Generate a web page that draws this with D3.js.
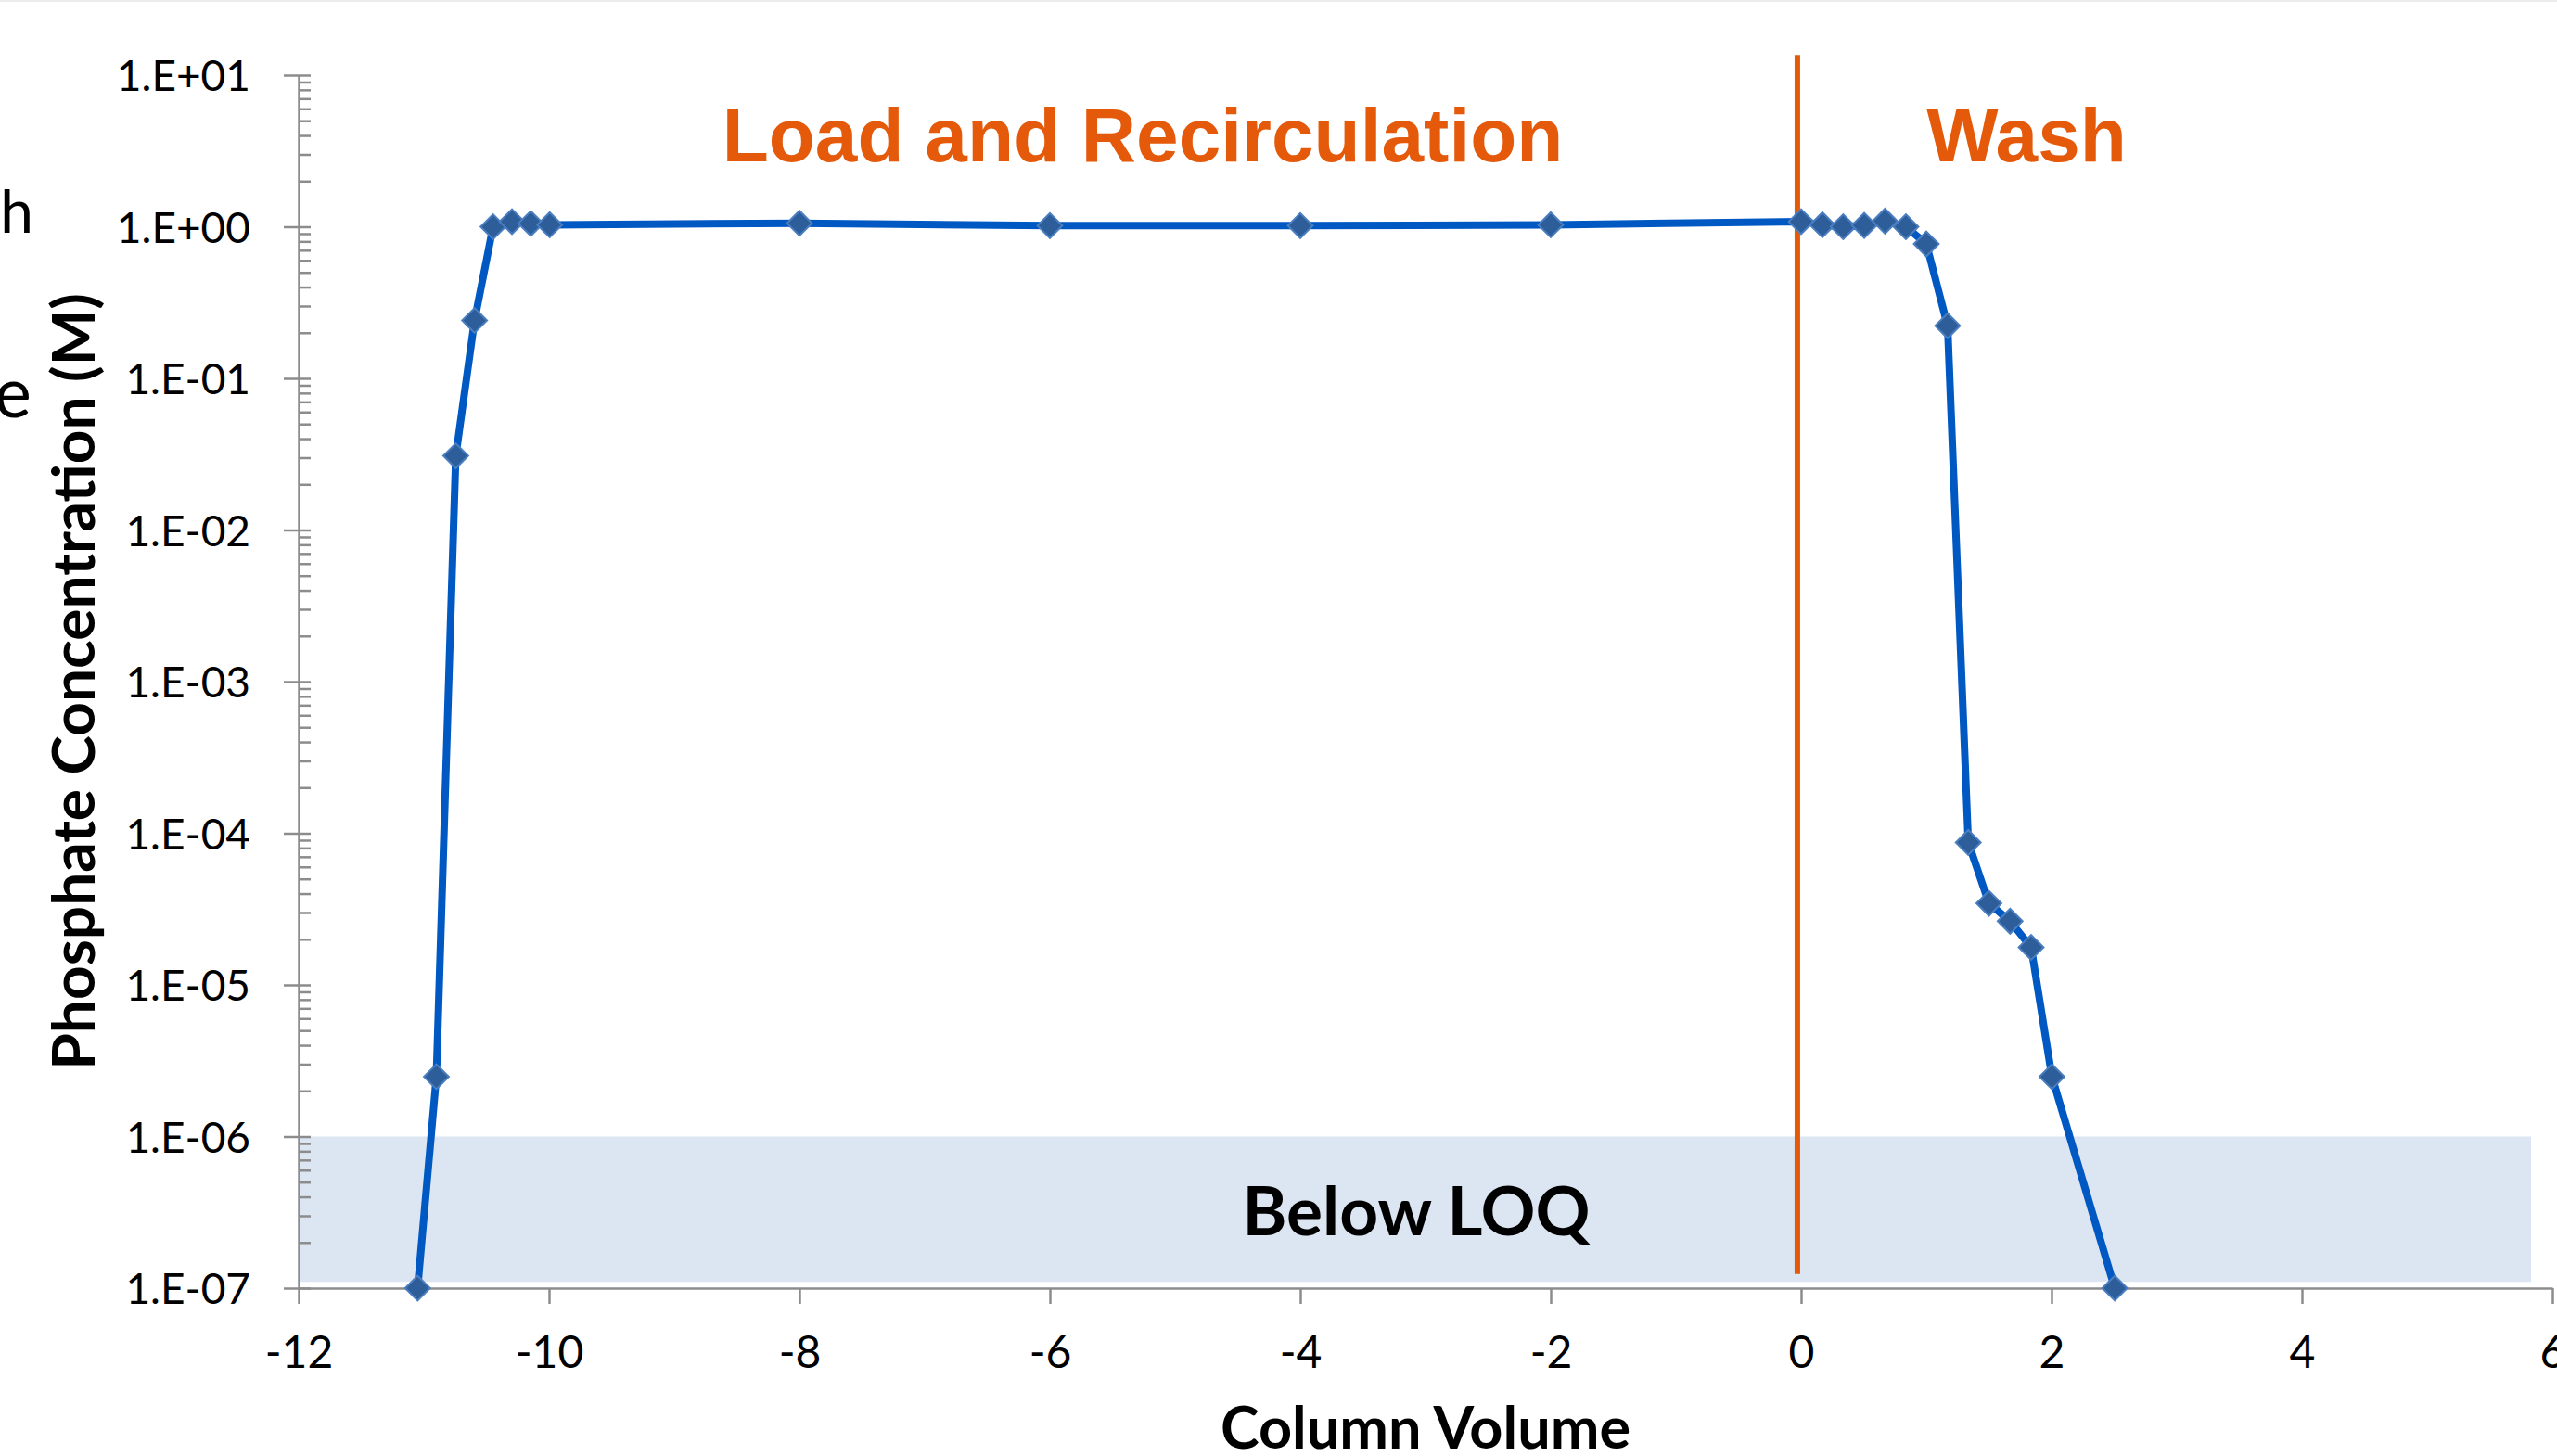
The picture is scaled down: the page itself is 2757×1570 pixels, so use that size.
<!doctype html>
<html lang="en">
  <head>
    <meta charset="utf-8">
    <title>Phosphate Concentration vs Column Volume</title>
    <script src="https://d3js.org/d3.v7.min.js"></script>
    <style>
      body { margin: 0; background: #fff; }
      svg { display: block; }
      .axis path, .axis line { stroke: #8c8c8c; stroke-width: 2.5; }
      .axis text { font-family: Lato, "Open Sans", sans-serif; fill: #000; }
    </style>
  </head>
  <body>
    <div class="chart"></div>
  </body>
  <script>
    // data
    const columnVolume = [-11.05, -10.9, -10.745, -10.595, -10.447, -10.296, -10.146, -9.995,
      -8, -6, -4, -2, 0,
      0.17, 0.336, 0.504, 0.67, 0.837, 1.0, 1.17, 1.335, 1.5, 1.669, 1.837, 2.003, 2.505];
    const phosphate = [1e-7, 2.48e-6, 0.0308, 0.241, 1.0, 1.08, 1.05, 1.03,
      1.055, 1.017, 1.017, 1.03, 1.08,
      1.03, 1.0, 1.02, 1.09, 1.0, 0.77, 0.222, 8.7e-5, 3.45e-5, 2.63e-5, 1.77e-5, 2.48e-6, 1e-7];

    const xTicks = [-12, -10, -8, -6, -4, -2, 0, 2, 4, 6];
    const xTickLabels = ['-12', '-10', '-8', '-6', '-4', '-2', '0', '2', '4', '6'];
    const yTicks = [1e-7, 1e-6, 1e-5, 1e-4, 1e-3, 1e-2, 1e-1, 1, 10];
    const yTickLabels = ['1.E-07', '1.E-06', '1.E-05', '1.E-04', '1.E-03', '1.E-02', '1.E-01', '1.E+00', '1.E+01'];

    // shaded "Below LOQ" region and the load / wash divider
    const loqX = [-12, 5.83];
    const loqY = [1.1e-7, 1e-6];
    const dividerX = [-0.03, -0.03];
    const dividerY = [1.24e-7, 13.6];

    const w = 2757;
    const h = 1570;
    const margin = { top: 81, right: 5, bottom: 181, left: 322 };

    const svg = d3.select('.chart')
      .append('svg')
      .attr('width', w)
      .attr('height', h);

    // faint border at the top of the slide
    svg.append('line')
      .attr('x1', 0).attr('x2', w)
      .attr('y1', 1).attr('y2', 1)
      .attr('stroke', '#ececec')
      .attr('stroke-width', 2);

    const x = d3.scaleLinear()
      .domain([-12, 6])
      .range([margin.left, w - margin.right]);
    const y = d3.scaleLog()
      .domain([1e-7, 10])
      .range([h - margin.bottom, margin.top]);

    svg.append('rect')
      .attr('x', x(loqX[0]))
      .attr('width', x(loqX[1]) - x(loqX[0]))
      .attr('y', y(loqY[1]))
      .attr('height', y(loqY[0]) - y(loqY[1]))
      .attr('fill', '#dce6f2');

    // y axis: major ticks cross the line, minor ticks only inside
    const yAxis = svg.append('g')
      .attr('class', 'axis')
      .attr('transform', 'translate(' + margin.left + ',0)')
      .call(d3.axisLeft(y)
        .tickValues(yTicks)
        .tickFormat((d, i) => yTickLabels[i])
        .tickSize(16)
        .tickSizeOuter(0)
        .tickPadding(36));
    yAxis.selectAll('text')
      .attr('font-size', '46px')
      .attr('dy', '0.36em');

    svg.append('g')
      .attr('class', 'axis')
      .attr('transform', 'translate(' + margin.left + ',0)')
      .call(d3.axisRight(y)
        .tickValues(y.ticks())
        .tickFormat('')
        .tickSize(13)
        .tickSizeOuter(0))
      .select('.domain').remove();

    const xAxis = svg.append('g')
      .attr('class', 'axis')
      .attr('transform', 'translate(0,' + (h - margin.bottom) + ')')
      .call(d3.axisBottom(x)
        .tickValues(xTicks)
        .tickFormat((d, i) => xTickLabels[i])
        .tickSize(17)
        .tickSizeOuter(0));
    xAxis.selectAll('text')
      .attr('font-size', '48px')
      .attr('y', 86)
      .attr('dy', null);

    // orange divider between load and wash
    svg.append('line')
      .attr('x1', x(dividerX[0])).attr('x2', x(dividerX[1]))
      .attr('y1', y(dividerY[0])).attr('y2', y(dividerY[1]))
      .attr('stroke', '#e55a0a')
      .attr('stroke-width', 6);

    const points = columnVolume.map((d, i) => ({ cv: d, c: phosphate[i] }));

    const line = d3.line()
      .x(d => x(d.cv))
      .y(d => y(d.c));

    svg.append('path')
      .datum(points)
      .attr('d', line)
      .attr('fill', 'none')
      .attr('stroke', '#0058c2')
      .attr('stroke-width', 8)
      .attr('stroke-linejoin', 'round');

    svg.selectAll('.marker')
      .data(points)
      .enter()
      .append('path')
      .attr('class', 'marker')
      .attr('d', d3.symbol(d3.symbolSquare, 360))
      .attr('transform', d => 'translate(' + x(d.cv) + ',' + y(d.c) + ') rotate(45)')
      .attr('fill', '#2d5e99')
      .attr('stroke', '#4a7ec0')
      .attr('stroke-width', 2);

    // labels
    svg.append('text')
      .attr('x', 1232).attr('y', 174)
      .attr('text-anchor', 'middle')
      .attr('font-family', '"Liberation Sans", Arial, sans-serif')
      .attr('font-weight', 'bold')
      .attr('font-size', '82px')
      .attr('fill', '#e55a0a')
      .text('Load and Recirculation');

    svg.append('text')
      .attr('x', 2185).attr('y', 174)
      .attr('text-anchor', 'middle')
      .attr('font-family', '"Liberation Sans", Arial, sans-serif')
      .attr('font-weight', 'bold')
      .attr('font-size', '82px')
      .attr('fill', '#e55a0a')
      .text('Wash');

    svg.append('text')
      .attr('x', 1527).attr('y', 1332)
      .attr('text-anchor', 'middle')
      .attr('font-family', 'Lato, sans-serif')
      .attr('font-weight', 'bold')
      .attr('font-size', '73px')
      .text('Below LOQ');

    svg.append('text')
      .attr('x', 1537).attr('y', 1562)
      .attr('text-anchor', 'middle')
      .attr('font-family', 'Lato, sans-serif')
      .attr('font-weight', 'bold')
      .attr('font-size', '63px')
      .text('Column Volume');

    svg.append('text')
      .attr('transform', 'translate(102,735) rotate(-90)')
      .attr('text-anchor', 'middle')
      .attr('font-family', 'Lato, sans-serif')
      .attr('font-weight', 'bold')
      .attr('font-size', '64px')
      .text('Phosphate Concentration (M)');

    // leftover letters of slide text cut off at the left edge
    svg.append('text')
      .attr('x', 36).attr('y', 251)
      .attr('text-anchor', 'end')
      .attr('font-family', 'Lato, sans-serif')
      .attr('font-size', '64px')
      .text('h');
    svg.append('text')
      .attr('x', 34).attr('y', 450)
      .attr('text-anchor', 'end')
      .attr('font-family', 'Lato, sans-serif')
      .attr('font-size', '76px')
      .text('e');
  </script>
</html>
